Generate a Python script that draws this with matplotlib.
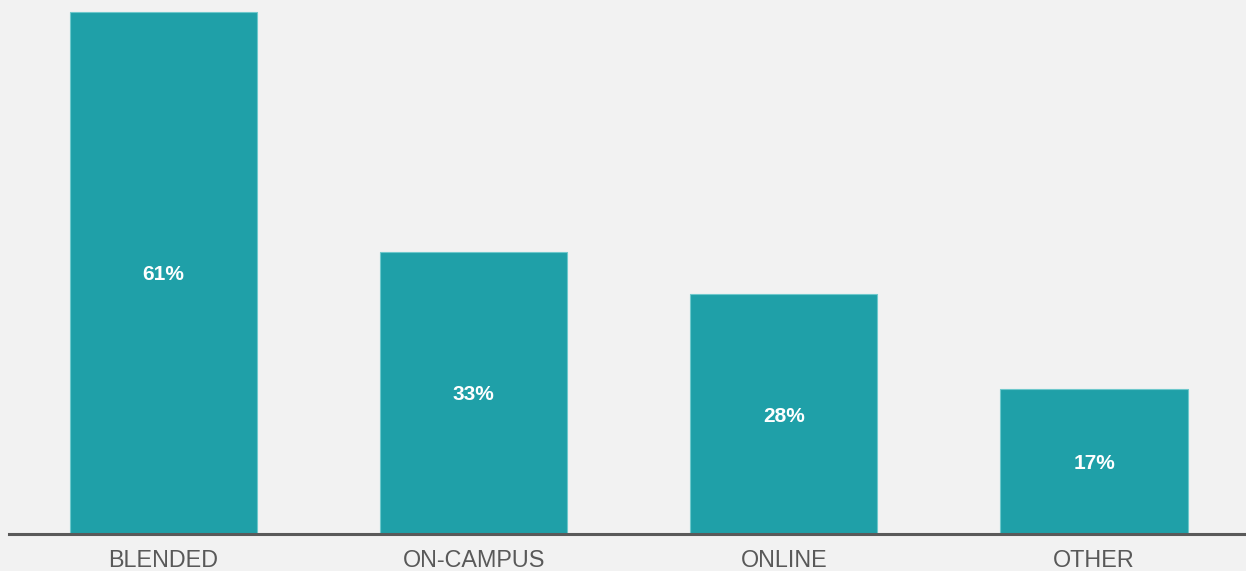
import matplotlib
matplotlib.use("Agg")
import matplotlib.pyplot as plt

categories = ["BLENDED", "ON-CAMPUS", "ONLINE", "OTHER"]
values = [61, 33, 28, 17]
labels = ["61%", "33%", "28%", "17%"]

bg = "#f2f2f2"
teal = "#1fa0a8"

plt.rcParams["font.family"] = ["Liberation Sans", "DejaVu Sans"]

fig = plt.figure(figsize=(12.46, 5.71), dpi=100, facecolor=bg)
ax = fig.add_axes([9 / 1246, 37 / 571, 1 - 9 / 1246, 1 - 37 / 571])
ax.set_facecolor(bg)

x = range(len(categories))
bars = ax.bar(x, values, width=0.603, color=teal, edgecolor="#6ec8cc", linewidth=0.8)

for rect, lab in zip(bars, labels):
    ax.text(rect.get_x() + rect.get_width() / 2, rect.get_height() / 2, lab,
            ha="center", va="center_baseline", color="white", fontsize=15,
            fontweight="bold")

ax.set_xlim(-0.498, 3.49)
ax.set_ylim(0, 62.4)
ax.set_xticks(list(x))
ax.set_xticklabels(categories, fontsize=16.8, color="#595959")
ax.tick_params(axis="x", length=0, pad=11)
ax.set_yticks([])
for s in ["top", "right", "left"]:
    ax.spines[s].set_visible(False)
ax.spines["bottom"].set_color("#5a5a5a")
ax.spines["bottom"].set_linewidth(2.2)

fig.savefig("out.png", dpi=100, facecolor=bg)
